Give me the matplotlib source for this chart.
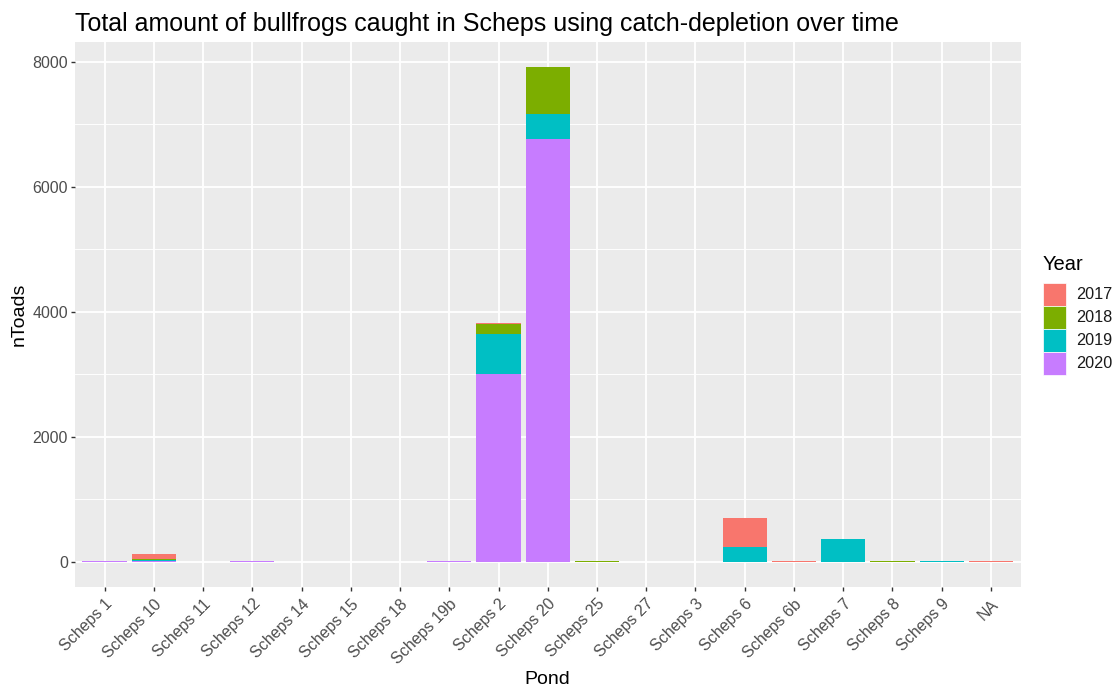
import numpy as np
import matplotlib
matplotlib.use("Agg")
import matplotlib.pyplot as plt
from matplotlib.patches import Rectangle
from matplotlib.ticker import MultipleLocator

plt.rcParams['font.family'] = ['Liberation Sans', 'DejaVu Sans']

ponds = ["Scheps 1", "Scheps 10", "Scheps 11", "Scheps 12", "Scheps 14", "Scheps 15",
         "Scheps 18", "Scheps 19b", "Scheps 2", "Scheps 20", "Scheps 25", "Scheps 27",
         "Scheps 3", "Scheps 6", "Scheps 6b", "Scheps 7", "Scheps 8", "Scheps 9", "NA"]
years = ["2017", "2018", "2019", "2020"]
colors = ["#F8766D", "#7CAE00", "#00BFC4", "#C77CFF"]

n2017 = [0, 85, 0, 0, 0, 0, 0, 0, 15, 0, 0, 0, 0, 470, 15, 0, 0, 0, 15]
n2018 = [0, 15, 0, 0, 0, 0, 0, 0, 160, 750, 15, 0, 0, 0, 0, 0, 15, 0, 0]
n2019 = [0, 20, 0, 0, 0, 0, 0, 0, 640, 400, 0, 0, 0, 235, 0, 360, 0, 15, 0]
n2020 = [15, 10, 0, 15, 0, 0, 0, 15, 3010, 6770, 0, 0, 0, 0, 0, 0, 0, 0, 0]

counts = {"2017": n2017, "2018": n2018, "2019": n2019, "2020": n2020}

W, H = 1116, 689
fig = plt.figure(figsize=(W / 100, H / 100), dpi=100)
ax = fig.add_axes([75 / W, 1 - 586.75 / H, 945.5 / W, 544.75 / H])
ax.set_facecolor("#EBEBEB")

x = np.arange(len(ponds))
bottom = np.zeros(len(ponds))
# ggplot stacks the last level at the bottom
for yr, col in reversed(list(zip(years, colors))):
    vals = np.array(counts[yr], dtype=float)
    ax.bar(x, vals, width=0.9, bottom=bottom, color=col, zorder=3, linewidth=0)
    bottom += vals

ax.set_xlim(-0.6, len(ponds) - 0.4)
ax.set_ylim(-396, 8316)
ax.yaxis.set_major_locator(MultipleLocator(2000))
ax.yaxis.set_minor_locator(MultipleLocator(1000))
ax.set_xticks(x)
ax.set_xticklabels(ponds, rotation=45, ha="right", va="top", rotation_mode="anchor")

ax.grid(which="major", color="white", linewidth=1.3, zorder=0)
ax.grid(which="minor", axis="y", color="white", linewidth=0.65, zorder=0)
ax.set_axisbelow(True)
for s in ax.spines.values():
    s.set_visible(False)
ax.tick_params(axis="both", which="major", colors="#333333", labelcolor="#4D4D4D",
               labelsize=11.5, length=3, width=1)
ax.tick_params(axis="y", which="minor", length=0)
ax.tick_params(axis="x", pad=4)
ax.tick_params(axis="y", pad=2)

ax.set_xlabel("Pond", fontsize=14)
ax.xaxis.label.set_va("center")
ax.xaxis.set_label_coords(0.5, (586.75 - 679) / 544.75)
ax.set_ylabel("nToads", fontsize=14)
ax.yaxis.label.set_va("center")
ax.yaxis.set_label_coords((19 - 75) / 945.5, 0.5)

ax.set_title("Total amount of bullfrogs caught in Scheps using catch-depletion over time",
             fontsize=18, loc="left", pad=8)

# legend drawn as in ggplot: square keys stacked without gaps
key = 23
fig.text(1043 / W, 1 - 270 / H, "Year", fontsize=14.5, va="baseline", ha="left")
for i, (yr, col) in enumerate(zip(years, colors)):
    top = 283 + i * key
    fig.add_artist(Rectangle((1043 / W, 1 - (top + key) / H), key / W, key / H,
                             transform=fig.transFigure, facecolor=col,
                             edgecolor="white", linewidth=0.5))
    fig.text(1076 / W, 1 - (top + key / 2) / H, yr, fontsize=11.7,
             va="center", ha="left", color="#1A1A1A")

fig.savefig("out.png", dpi=100)
